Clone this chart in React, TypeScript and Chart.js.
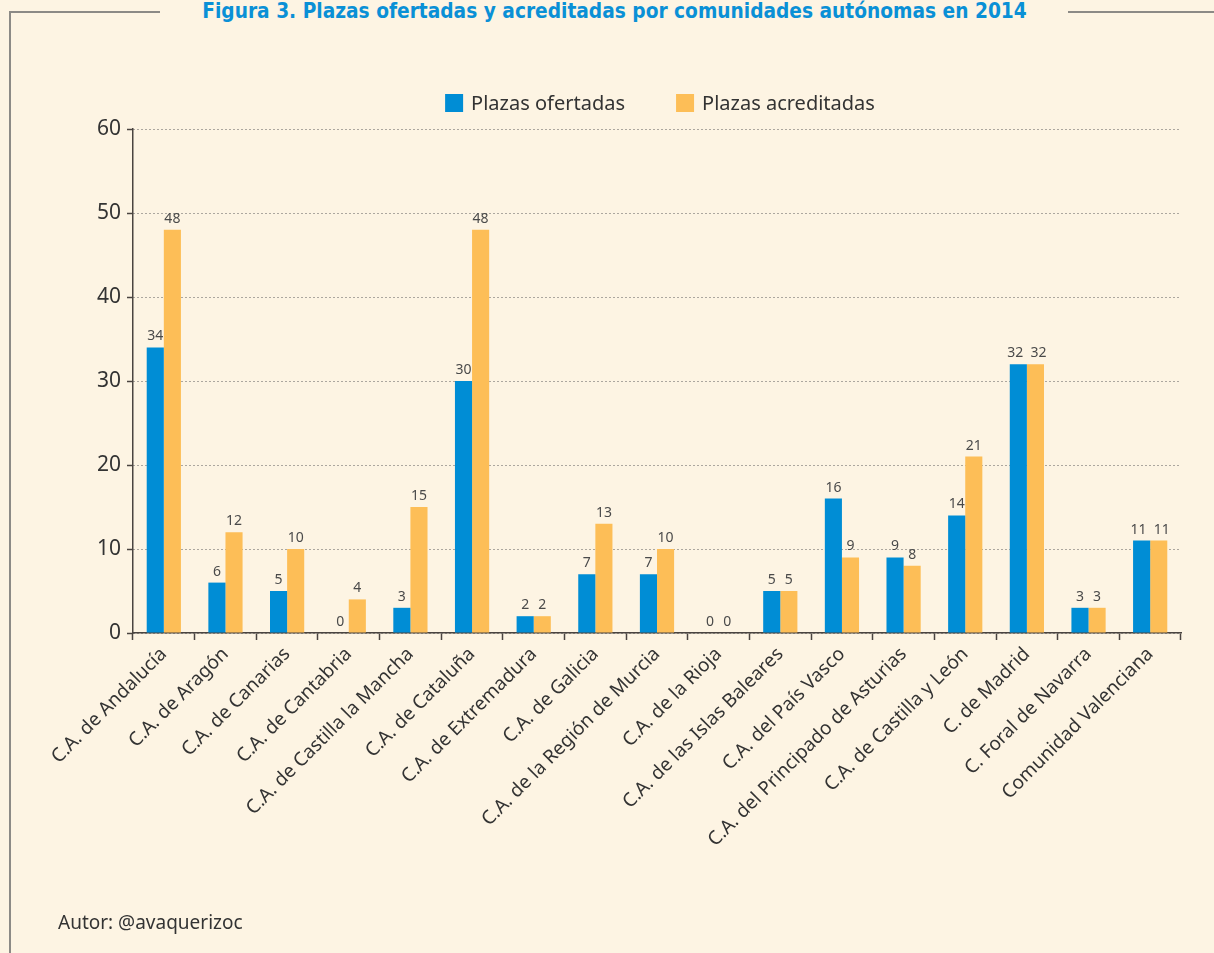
import React, { useEffect, useRef } from 'react';
import { Chart, registerables } from 'chart.js';

Chart.register(...registerables);

const categories = [
  'C.A. de Andalucía',
  'C.A. de Aragón',
  'C.A. de Canarias',
  'C.A. de Cantabria',
  'C.A. de Castilla la Mancha',
  'C.A. de Cataluña',
  'C.A. de Extremadura',
  'C.A. de Galicia',
  'C.A. de la Región de Murcia',
  'C.A. de la Rioja',
  'C.A. de las Islas Baleares',
  'C.A. del País Vasco',
  'C.A. del Principado de Asturias',
  'C.A. de Castilla y León',
  'C. de Madrid',
  'C. Foral de Navarra',
  'Comunidad Valenciana',
];

const plazasOfertadas = [34, 6, 5, 0, 3, 30, 2, 7, 7, 0, 5, 16, 9, 14, 32, 3, 11];
const plazasAcreditadas = [48, 12, 10, 4, 15, 48, 2, 13, 10, 0, 5, 9, 8, 21, 32, 3, 11];

const seriesNames = ['Plazas ofertadas', 'Plazas acreditadas'];
const seriesColors = ['#008dd5', '#fdbe57'];

const yMin = 0;
const yMax = 60;
const yStep = 10;

const titleText = 'Figura 3. Plazas ofertadas y acreditadas por comunidades autónomas en 2014';
const authorText = 'Autor: @avaquerizoc';

const FONT = '"Noto Sans", "Open Sans", sans-serif';
const BG = '#fdf4e3';

const valueLabelsPlugin = {
  id: 'valueLabels',
  afterDatasetsDraw(chart: any) {
    const ctx = chart.ctx;
    ctx.save();
    ctx.font = `14px ${FONT}`;
    ctx.fillStyle = '#4a4a4a';
    ctx.textAlign = 'center';
    ctx.textBaseline = 'bottom';
    const m0 = chart.getDatasetMeta(0);
    const m1 = chart.getDatasetMeta(1);
    chart.data.datasets.forEach((ds: any, di: number) => {
      const meta = chart.getDatasetMeta(di);
      meta.data.forEach((el: any, i: number) => {
        const v = ds.data[i];
        let dx = 0;
        const a = m0.data[i];
        const b = m1.data[i];
        if (a && b && Math.abs(a.y - b.y) < 12 && String(ds.data[i]).length > 1) {
          dx = di === 0 ? -3 : 3;
        }
        ctx.fillText(String(v), el.x + dx, el.y - 4);
      });
    });
    ctx.restore();
  },
};

const customLegendPlugin = {
  id: 'customLegend',
  afterDraw(chart: any) {
    const ctx = chart.ctx;
    ctx.save();
    ctx.font = `20px ${FONT}`;
    const box = 18;
    const gap = 8;
    const spacing = 51;
    const items = chart.data.datasets.map((ds: any) => ({
      text: ds.label,
      color: ds.backgroundColor,
      w: ctx.measureText(ds.label).width,
    }));
    const total =
      items.reduce((s: number, it: any) => s + box + gap + it.w, 0) + spacing * (items.length - 1);
    let x = 660 - total / 2;
    const cy = 103;
    ctx.textBaseline = 'middle';
    ctx.textAlign = 'left';
    items.forEach((it: any) => {
      ctx.fillStyle = it.color;
      ctx.fillRect(x, cy - box / 2, box, box);
      ctx.fillStyle = '#333333';
      ctx.fillText(it.text, x + box + gap, cy + 1);
      x += box + gap + it.w + spacing;
    });
    ctx.restore();
  },
};

export default function App() {
  const canvasRef = useRef<HTMLCanvasElement | null>(null);

  useEffect(() => {
    if (!canvasRef.current) return;
    const chart = new Chart(canvasRef.current, {
      type: 'bar',
      data: {
        labels: categories,
        datasets: [
          {
            label: seriesNames[0],
            data: plazasOfertadas,
            backgroundColor: seriesColors[0],
            categoryPercentage: 0.555,
            barPercentage: 1,
          },
          {
            label: seriesNames[1],
            data: plazasAcreditadas,
            backgroundColor: seriesColors[1],
            categoryPercentage: 0.555,
            barPercentage: 1,
          },
        ],
      },
      options: {
        responsive: false,
        animation: false,
        devicePixelRatio: 1,
        layout: { padding: { top: 129, left: 0, right: 33, bottom: 0 } },
        plugins: {
          legend: { display: false },
          tooltip: { enabled: false },
          title: { display: false },
        },
        scales: {
          x: {
            afterFit: (s: any) => {
              s.height = 320;
            },
            grid: {
              display: true,
              drawOnChartArea: false,
              drawTicks: true,
              tickLength: 7,
              tickColor: '#4a4440',
              tickWidth: 1.5,
              offset: true,
            },
            border: { display: true, color: '#4a4440', width: 1.5 },
            ticks: {
              autoSkip: false,
              maxRotation: 45,
              minRotation: 45,
              padding: 3,
              color: '#333333',
              font: { family: FONT, size: 19 },
            },
          },
          y: {
            min: yMin,
            max: yMax,
            afterFit: (s: any) => {
              s.width = 133;
            },
            ticks: {
              stepSize: yStep,
              padding: 6,
              color: '#333333',
              font: { family: FONT, size: 21 },
            },
            grid: {
              color: '#5a5a5a',
              lineWidth: 1,
              drawTicks: true,
              tickLength: 6,
              tickColor: '#4a4440',
              tickWidth: 1.5,
              tickBorderDash: [],
            },
            border: { display: true, color: '#4a4440', width: 1.5, dash: [1, 3] },
          },
        },
      },
      plugins: [valueLabelsPlugin, customLegendPlugin],
    });
    return () => chart.destroy();
  }, []);

  return (
    <div
      style={{
        position: 'fixed',
        left: 0,
        top: 0,
        width: 1214,
        height: 953,
        background: BG,
        overflow: 'hidden',
      }}
    >
      <div style={{ position: 'absolute', left: 9, top: 11, width: 151, height: 2, background: '#8c8a86' }} />
      <div style={{ position: 'absolute', left: 1068, top: 11, width: 146, height: 2, background: '#8c8a86' }} />
      <div style={{ position: 'absolute', left: 9, top: 11, width: 2, height: 942, background: '#8c8a86' }} />
      <div
        style={{
          position: 'absolute',
          left: 0,
          width: 1229,
          top: -2,
          textAlign: 'center',
          whiteSpace: 'nowrap',
          color: '#0a90d6',
          fontFamily: '"DejaVu Sans Condensed", "DejaVu Sans", sans-serif',
          fontStretch: 'condensed',
          fontWeight: 'bold',
          fontSize: 20.7,
          lineHeight: '26px',
        }}
      >
        {titleText}
      </div>
      <canvas ref={canvasRef} width={1214} height={953} style={{ position: 'absolute', left: 0, top: 0, display: 'block' }} />
      <div
        style={{
          position: 'absolute',
          left: 58,
          top: 909,
          fontFamily: FONT,
          fontSize: 19,
          lineHeight: '26px',
          color: '#333333',
          whiteSpace: 'nowrap',
        }}
      >
        {authorText}
      </div>
    </div>
  );
}
